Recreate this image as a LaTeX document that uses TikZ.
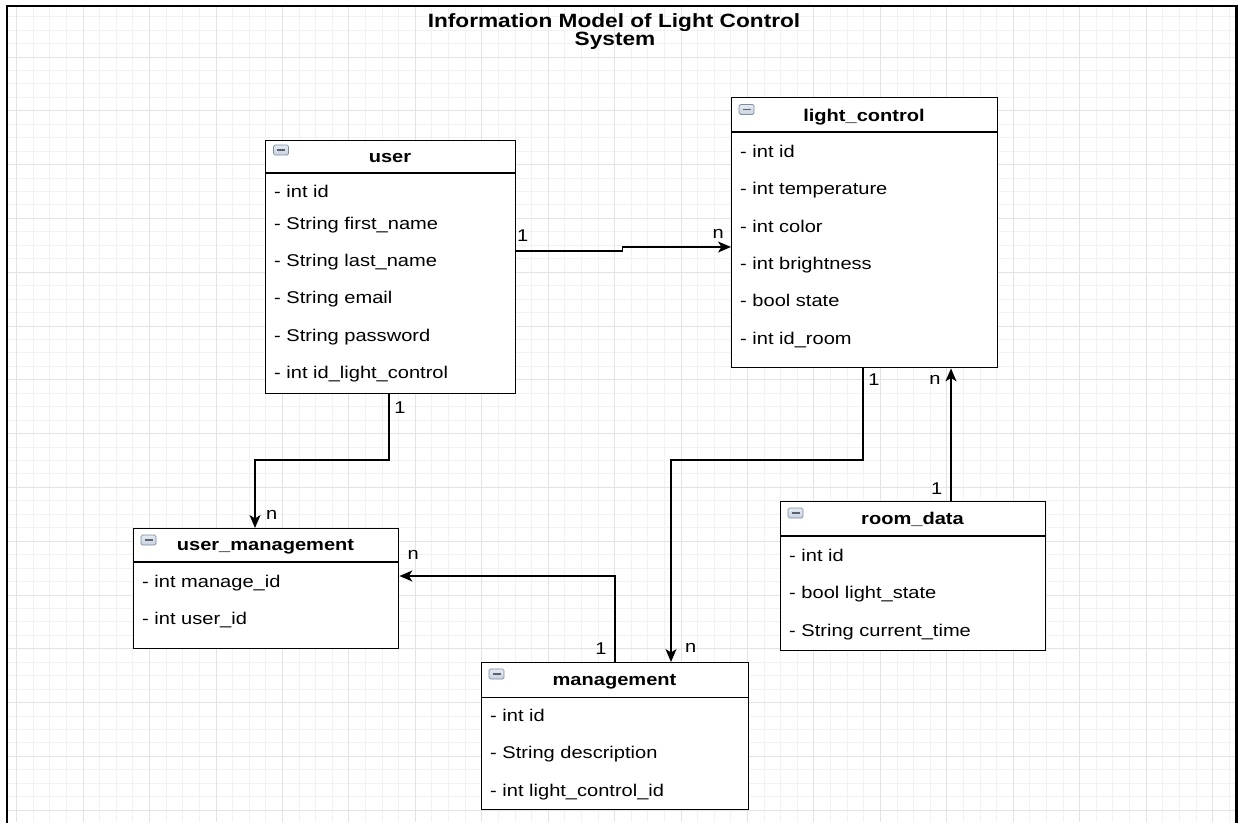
\documentclass[tikz,border=0pt]{standalone}
\usepackage{fontspec}
\setmainfont{Liberation Sans}[FakeStretch=1.18]
\usetikzlibrary{arrows.meta,calc}

\definecolor{gridminor}{HTML}{F2F2F2}
\definecolor{gridmajor}{HTML}{E3E3E3}
\definecolor{iconfill}{HTML}{C8D2DF}
\definecolor{iconedge}{HTML}{7D8DA3}
\definecolor{iconbar}{HTML}{5A6270}

\tikzset{
  gridminorline/.style={draw=gridminor, line width=1pt},
  gridmajorline/.style={draw=gridmajor, line width=1pt},
  frameline/.style={draw=black, line width=2.2pt},
  heading/.style={font=\bfseries\fontsize{19.2}{20}\selectfont, inner sep=0pt, anchor=base},
  classbox/.style={draw=black, fill=white, line width=1.4pt, inner sep=0pt, anchor=north west},
  headrule/.style={draw=black, line width=1.4pt},
  classtitle/.style={font=\bfseries\fontsize{17}{20}\selectfont, inner sep=0pt, anchor=base},
  attr/.style={font=\fontsize{17}{20}\selectfont, inner sep=0pt, anchor=base west},
  mult/.style={font=\fontsize{17}{20}\selectfont, inner sep=0pt},
  link/.style={draw=black, line width=1.4pt, -{Stealth[length=13pt,width=11pt,inset=3.5pt]}},
  collapse/.style={rectangle, rounded corners=1.5pt, minimum width=15pt, minimum height=10pt,
    inner sep=0pt, top color=iconfill!45, bottom color=iconfill, draw=iconedge, line width=0.7pt,
    path picture={\draw[iconbar, line width=1.4pt]
      ([xshift=3.5pt]path picture bounding box.west) -- ([xshift=-3.5pt]path picture bounding box.east);}},
}

\begin{document}
\begin{tikzpicture}[x=1pt, y=-1pt]
\useasboundingbox (0,0) rectangle (1242,822);
\fill[white] (0,0) rectangle (1242,822);

% background grid inside the frame
\foreach \i in {0,...,73}
  \draw[gridminorline] ({16.7+16.61*\i},6) -- ({16.7+16.61*\i},822);
\foreach \j in {1,...,60}
  \draw[gridminorline] (7,{3.2+13.45*\j}) -- (1236.5,{3.2+13.45*\j});
\foreach \i in {0,4,...,72}
  \draw[gridmajorline] ({16.7+16.61*\i},6) -- ({16.7+16.61*\i},822);
\foreach \j in {4,8,...,60}
  \draw[gridmajorline] (7,{3.2+13.45*\j}) -- (1236.5,{3.2+13.45*\j});

% frame
\draw[frameline] (7,830) -- (7,6) -- (1236.5,6) -- (1236.5,830);

% title
\node[heading] (title-a) at (614,27.3) {Information Model of Light Control};
\node[heading] (title-b) at (615,45) {System};

% class: user
\node[classbox, minimum width=250pt, minimum height=253pt] (user) at (265,140) {};
\draw[headrule] (265,173) -- (515,173);
\node[collapse] (user-ic) at (281,150) {};
\node[classtitle] (user-t) at (390,162) {user};
\node[attr] (user-a1) at (274,197) {- int id};
\node[attr] (user-a2) at (274,229.3) {- String first\_name};
\node[attr] (user-a3) at (274,266.3) {- String last\_name};
\node[attr] (user-a4) at (274,303.7) {- String email};
\node[attr] (user-a5) at (274,341) {- String password};
\node[attr] (user-a6) at (274,378.5) {- int id\_light\_control};

% class: light_control
\node[classbox, minimum width=266pt, minimum height=270pt] (lc) at (731,97) {};
\draw[headrule] (731,132) -- (997,132);
\node[collapse] (lc-ic) at (746.5,109.5) {};
\node[classtitle] (lc-t) at (864,121) {light\_control};
\node[attr] (lc-a1) at (740,157.5) {- int id};
\node[attr] (lc-a2) at (740,194.5) {- int temperature};
\node[attr] (lc-a3) at (740,232) {- int color};
\node[attr] (lc-a4) at (740,269.5) {- int brightness};
\node[attr] (lc-a5) at (740,306.5) {- bool state};
\node[attr] (lc-a6) at (740,344) {- int id\_room};

% class: user_management
\node[classbox, minimum width=265pt, minimum height=120pt] (um) at (133,528) {};
\draw[headrule] (133,562) -- (398,562);
\node[collapse] (um-ic) at (148.5,540) {};
\node[classtitle] (um-t) at (265.5,550.7) {user\_management};
\node[attr] (um-a1) at (142,587) {- int manage\_id};
\node[attr] (um-a2) at (142,624.3) {- int user\_id};

% class: management
\node[classbox, minimum width=267pt, minimum height=147pt] (mg) at (481,662) {};
\draw[headrule] (481,697.5) -- (748,697.5);
\node[collapse] (mg-ic) at (496.5,674) {};
\node[classtitle] (mg-t) at (614.5,685.7) {management};
\node[attr] (mg-a1) at (490,721) {- int id};
\node[attr] (mg-a2) at (490,758.5) {- String description};
\node[attr] (mg-a3) at (490,796) {- int light\_control\_id};

% class: room_data
\node[classbox, minimum width=265pt, minimum height=149pt] (rd) at (780,501) {};
\draw[headrule] (780,536) -- (1045,536);
\node[collapse] (rd-ic) at (795.5,513) {};
\node[classtitle] (rd-t) at (912.5,524.5) {room\_data};
\node[attr] (rd-a1) at (789,561) {- int id};
\node[attr] (rd-a2) at (789,598) {- bool light\_state};
\node[attr] (rd-a3) at (789,636) {- String current\_time};

% associations
\draw[link] ($(user.north east)+(0,111)$) -- (622.5,251) -- (622.5,247) -- ($(lc.north west)+(0,150)$);
\draw[link] ($(user.south west)+(124,0)$) -- (389,460) -- (255,460) -- ($(um.north west)+(122,0)$);
\draw[link] ($(lc.south west)+(132,0)$) -- (863,460) -- (671,460) -- ($(mg.north west)+(190,0)$);
\draw[link] ($(mg.north west)+(134,0)$) -- (615,576) -- ($(um.north east)+(0,48)$);
\draw[link] ($(rd.north west)+(171,0)$) -- ($(lc.south west)+(220,0)$);

% multiplicities
\node[mult] (m1a) at (522.7,235.7) {1};
\node[mult] (m1b) at (718.3,234) {n};
\node[mult] (m2a) at (400,408) {1};
\node[mult] (m2b) at (271.7,515) {n};
\node[mult] (m3a) at (874,380) {1};
\node[mult] (m3b) at (690.7,648.3) {n};
\node[mult] (m4a) at (601,648.3) {1};
\node[mult] (m4b) at (413.3,555) {n};
\node[mult] (m5a) at (936.7,488.3) {1};
\node[mult] (m5b) at (935,380) {n};
\end{tikzpicture}
\end{document}
